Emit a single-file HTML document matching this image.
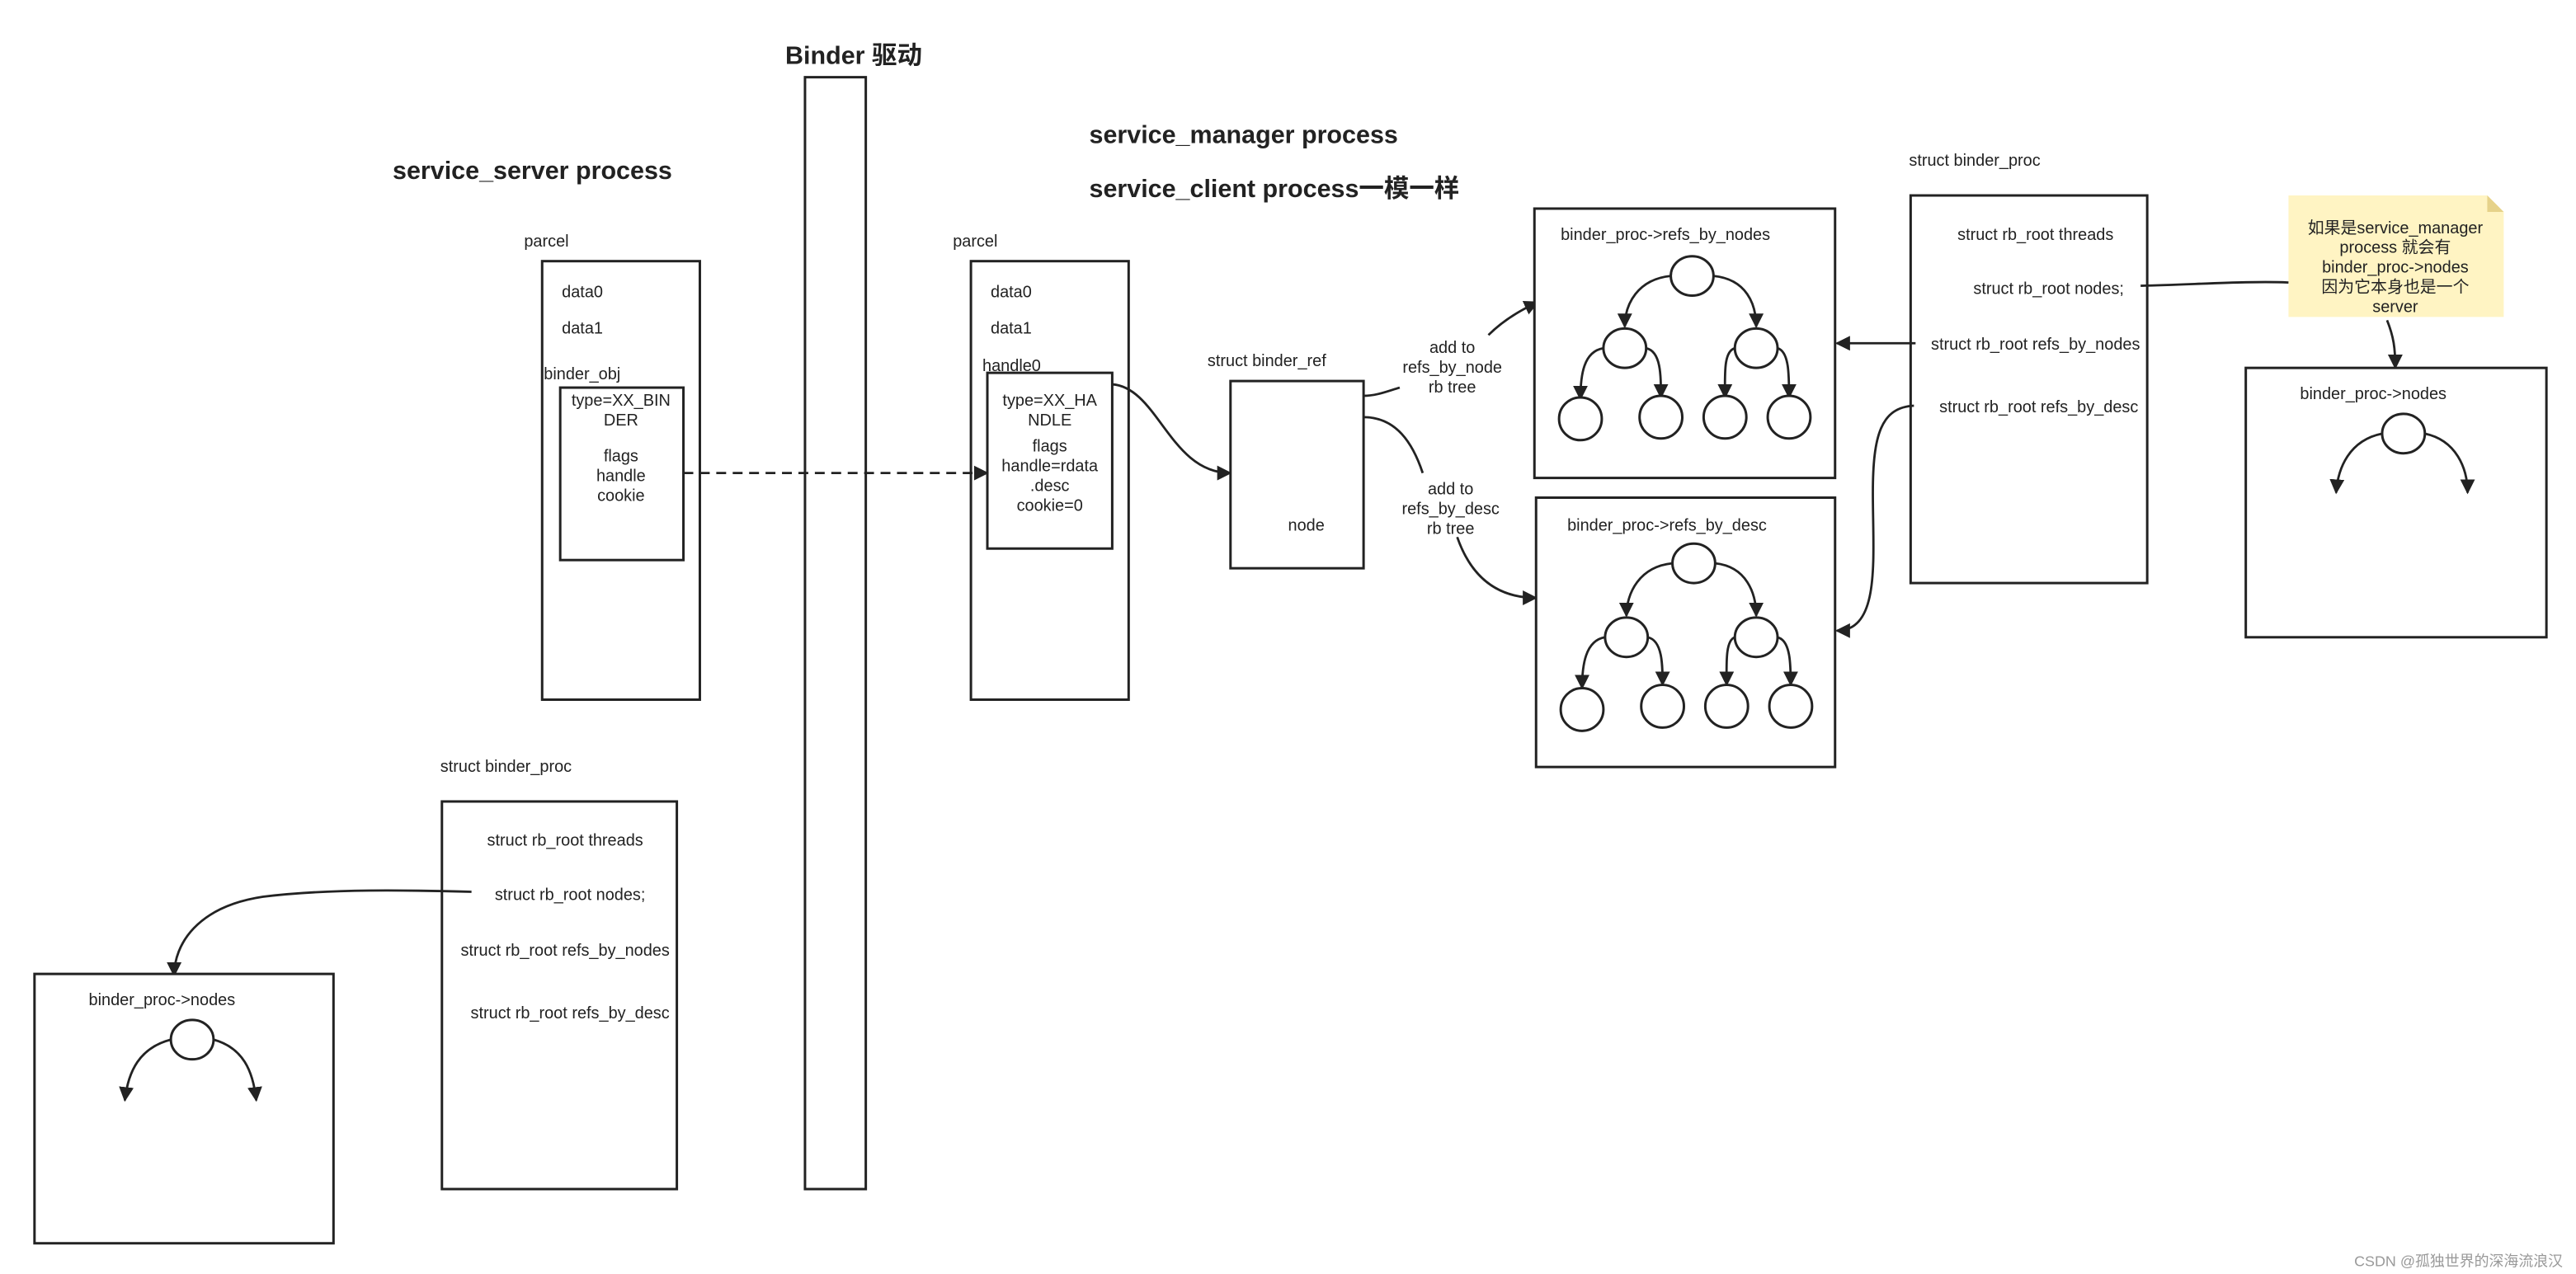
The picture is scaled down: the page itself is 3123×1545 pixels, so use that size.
<!DOCTYPE html>
<html><head><meta charset="utf-8"><style>
html,body{margin:0;padding:0;background:#fff;}
svg{display:block;}
text{font-family:"Liberation Sans","Noto Sans CJK SC",sans-serif;fill:#222;font-size:10px;}
.b{font-weight:bold;font-size:15.3px;}
.c{text-anchor:middle;}
.bx{fill:#fff;stroke:#222;stroke-width:1.5;}
.ln{fill:none;stroke:#222;stroke-width:1.4;}
.cr{fill:#fff;stroke:#222;stroke-width:1.5;}
</style></head><body>
<svg width="3123" height="1545" viewBox="0 0 1568 775.7" xmlns="http://www.w3.org/2000/svg">
<defs>
<marker id="a" viewBox="0 0 10 10" refX="9" refY="5" markerWidth="9" markerHeight="9" markerUnits="userSpaceOnUse" orient="auto"><path d="M0,0 L10,5 L0,10 z" fill="#222"/></marker>
</defs>
<rect width="1568" height="776" fill="#fff"/>

<text x="478" y="39" class="b">Binder 驱动</text>
<text x="239" y="109" class="b">service_server process</text>
<text x="663" y="87" class="b">service_manager process</text>
<text x="663" y="120" class="b">service_client process一模一样</text>

<rect x="490" y="47" width="37" height="677" class="bx"/>

<text x="319" y="150">parcel</text>
<rect x="330" y="159" width="96" height="267" class="bx"/>
<text x="342" y="181">data0</text>
<text x="342" y="203">data1</text>
<text x="331" y="231">binder_obj</text>
<rect x="341" y="236" width="75" height="105" class="bx"/>
<text x="378" y="247" class="c">type=XX_BIN</text>
<text x="378" y="259" class="c">DER</text>
<text x="378" y="281" class="c">flags</text>
<text x="378" y="293" class="c">handle</text>
<text x="378" y="305" class="c">cookie</text>

<text x="580" y="150">parcel</text>
<rect x="591" y="159" width="96" height="267" class="bx"/>
<text x="603" y="181">data0</text>
<text x="603" y="203">data1</text>
<text x="598" y="226">handle0</text>
<rect x="601" y="227" width="76" height="107" class="bx"/>
<text x="639" y="247" class="c">type=XX_HA</text>
<text x="639" y="259" class="c">NDLE</text>
<text x="639" y="275" class="c">flags</text>
<text x="639" y="287" class="c">handle=rdata</text>
<text x="639" y="299" class="c">.desc</text>
<text x="639" y="311" class="c">cookie=0</text>

<path d="M416,288 L601,288" class="ln" stroke-dasharray="6,4" marker-end="url(#a)"/>

<path d="M677,234 C705,236 712,288 749,288" class="ln" marker-end="url(#a)"/>

<text x="735" y="223">struct binder_ref</text>
<rect x="749" y="232" width="81" height="114" class="bx"/>
<text x="784" y="323">node</text>

<text x="884" y="215" class="c">add to</text>
<text x="884" y="227" class="c">refs_by_node</text>
<text x="884" y="239" class="c">rb tree</text>
<path d="M830,241 C838,241 845,238 852,236" class="ln"/>
<path d="M906,204 C915,195 925,189 936,184" class="ln" marker-end="url(#a)"/>

<text x="883" y="301" class="c">add to</text>
<text x="883" y="313" class="c">refs_by_desc</text>
<text x="883" y="325" class="c">rb tree</text>
<path d="M830,254 C850,254 860,270 866,288" class="ln"/>
<path d="M887,327 C895,350 910,364 935,364" class="ln" marker-end="url(#a)"/>

<rect x="934" y="127" width="183" height="164" class="bx"/>
<text x="950" y="146">binder_proc-&gt;refs_by_nodes</text>
<g>
<path d="M1017,168 C997,170 989,185 989,199" class="ln" marker-end="url(#a)"/>
<path d="M1043,168 C1063,170 1069,185 1069,199" class="ln" marker-end="url(#a)"/>
<path d="M976,212 C964,214 962,228 962,243" class="ln" marker-end="url(#a)"/>
<path d="M1002,212 C1011,214 1011,228 1011,242" class="ln" marker-end="url(#a)"/>
<path d="M1056,212 C1049,214 1050,228 1050,242" class="ln" marker-end="url(#a)"/>
<path d="M1082,212 C1089,214 1089,228 1089,242" class="ln" marker-end="url(#a)"/>
<ellipse cx="1030" cy="168" rx="13" ry="12" class="cr"/>
<ellipse cx="989" cy="212" rx="13" ry="12" class="cr"/>
<ellipse cx="1069" cy="212" rx="13" ry="12" class="cr"/>
<ellipse cx="962" cy="255" rx="13" ry="13" class="cr"/>
<ellipse cx="1011" cy="254" rx="13" ry="13" class="cr"/>
<ellipse cx="1050" cy="254" rx="13" ry="13" class="cr"/>
<ellipse cx="1089" cy="254" rx="13" ry="13" class="cr"/>
</g>

<rect x="935" y="303" width="182" height="164" class="bx"/>
<text x="954" y="323">binder_proc-&gt;refs_by_desc</text>
<g>
<path d="M1018,343 C998,345 990,361 990,375" class="ln" marker-end="url(#a)"/>
<path d="M1044,343 C1063,345 1069,361 1069,375" class="ln" marker-end="url(#a)"/>
<path d="M977,388 C965,390 963,405 963,419" class="ln" marker-end="url(#a)"/>
<path d="M1003,388 C1012,390 1012,405 1012,417" class="ln" marker-end="url(#a)"/>
<path d="M1056,388 C1050,390 1051,405 1051,417" class="ln" marker-end="url(#a)"/>
<path d="M1082,388 C1090,390 1090,405 1090,417" class="ln" marker-end="url(#a)"/>
<ellipse cx="1031" cy="343" rx="13" ry="12" class="cr"/>
<ellipse cx="990" cy="388" rx="13" ry="12" class="cr"/>
<ellipse cx="1069" cy="388" rx="13" ry="12" class="cr"/>
<ellipse cx="963" cy="432" rx="13" ry="13" class="cr"/>
<ellipse cx="1012" cy="430" rx="13" ry="13" class="cr"/>
<ellipse cx="1051" cy="430" rx="13" ry="13" class="cr"/>
<ellipse cx="1090" cy="430" rx="13" ry="13" class="cr"/>
</g>

<text x="1162" y="101">struct binder_proc</text>
<rect x="1163" y="119" width="144" height="236" class="bx"/>
<text x="1239" y="146" class="c">struct rb_root threads</text>
<text x="1247" y="179" class="c">struct rb_root nodes;</text>
<text x="1239" y="213" class="c">struct rb_root refs_by_nodes</text>
<text x="1241" y="251" class="c">struct rb_root refs_by_desc</text>
<path d="M1166,209 L1118,209" class="ln" stroke-width="1.8" marker-end="url(#a)"/>
<path d="M1165,247 C1145,248 1140,265 1140,300 C1140,340 1145,384 1118,384" class="ln" marker-end="url(#a)"/>
<path d="M1303,174 C1340,173 1370,171 1393,172" class="ln"/>

<path d="M1393,119 L1514,119 L1524,129 L1524,193 L1393,193 z" fill="#fff4c3" stroke="none"/>
<path d="M1514,119 L1524,129 L1514,129 z" fill="#e6d28a"/>
<text x="1458" y="142" class="c">如果是service_manager</text>
<text x="1458" y="154" class="c">process 就会有</text>
<text x="1458" y="166" class="c">binder_proc-&gt;nodes</text>
<text x="1458" y="178" class="c">因为它本身也是一个</text>
<text x="1458" y="190" class="c">server</text>
<path d="M1453,195 C1457,205 1458,212 1458,224" class="ln" marker-end="url(#a)"/>

<rect x="1367" y="224" width="183" height="164" class="bx"/>
<text x="1400" y="243">binder_proc-&gt;nodes</text>
<path d="M1450,264 C1430,268 1423,285 1422,300" class="ln" marker-end="url(#a)"/>
<path d="M1476,264 C1495,268 1502,285 1502,300" class="ln" marker-end="url(#a)"/>
<ellipse cx="1463" cy="264" rx="13" ry="12" class="cr"/>

<text x="268" y="470">struct binder_proc</text>
<rect x="269" y="488" width="143" height="236" class="bx"/>
<text x="344" y="515" class="c">struct rb_root threads</text>
<text x="347" y="548" class="c">struct rb_root nodes;</text>
<text x="344" y="582" class="c">struct rb_root refs_by_nodes</text>
<text x="347" y="620" class="c">struct rb_root refs_by_desc</text>
<path d="M287,543 C250,542 200,541 160,546 C120,552 106,575 106,594" class="ln" marker-end="url(#a)"/>

<rect x="21" y="593" width="182" height="164" class="bx"/>
<text x="54" y="612">binder_proc-&gt;nodes</text>
<path d="M104,633 C85,638 78,652 76,670" class="ln" marker-end="url(#a)"/>
<path d="M130,633 C148,638 154,652 156,670" class="ln" marker-end="url(#a)"/>
<ellipse cx="117" cy="633" rx="13" ry="12" class="cr"/>

<text x="1560" y="771" style="font-size:9px;fill:#999;text-anchor:end">CSDN @孤独世界的深海流浪汉</text>
</svg>
</body></html>
